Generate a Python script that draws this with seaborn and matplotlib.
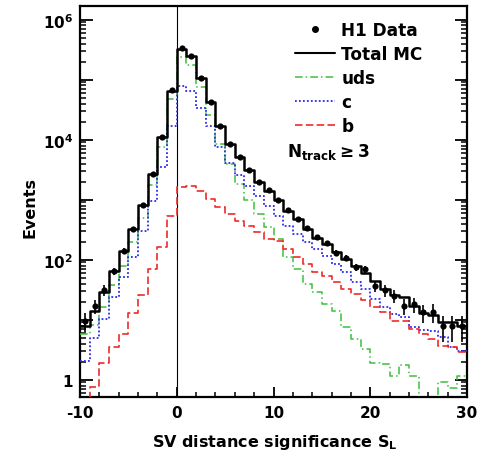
import numpy as np
import matplotlib
matplotlib.use("Agg")
import matplotlib.pyplot as plt
import seaborn as sns
from matplotlib.lines import Line2D
from matplotlib.ticker import FixedLocator, FixedFormatter, LogLocator, NullFormatter, MultipleLocator

# ---------------- data ----------------
bin_edges = list(range(-10, 31))
bin_centers = [e + 0.5 for e in range(-10, 30)]

h1_data = [9.6, 17, 31, 64, 141, 325, 825, 2700, 11000, 68000,
           334000, 251000, 108000, 42000, 17100, 8480, 5150, 3160, 1995, 1435,
           989, 673, 477, 334, 236, 188, 131, 108, 75, 70,
           37, 31, 25, 17, 18, 13.3, 13.6, 7.9, 7.9, 7.9]
h1_err = [3.4, 4.5, 6.2, 8.8, 13, 20, 32, 57, 112, 280,
          600, 520, 340, 210, 135, 95, 75, 58, 47, 40,
          33, 27, 23, 19, 16, 14.5, 12.5, 11.5, 9.5, 9.2,
          7.5, 7.0, 6.3, 5.2, 5.3, 4.6, 4.7, 3.6, 3.6, 3.6]
total_mc = [7.9, 14, 29, 66, 140, 320, 820, 2650, 11000, 66000,
            320000, 245000, 106000, 42000, 16800, 8500, 5100, 3100, 1950, 1400,
            975, 660, 470, 330, 232, 180, 135, 104, 78, 60,
            44, 33, 26, 24, 17, 12.8, 12, 9.3, 9.3, 8]
uds = [5.7, 8.3, 16, 38, 78, 195, 490, 1780, 7470, 47700,
       236000, 176000, 74700, 26100, 8480, 3940, 1830, 990, 578, 350,
       221, 110, 70, 39, 28.6, 18, 14, 7.5, 4.8, 3.25,
       1.9, 1.8, 1.15, 1.75, 1.15, 0, 0, 0.9, 0.72, 1.15]
charm = [2.07, 4.9, 10.3, 23.6, 51, 110, 304, 962, 3470, 17100,
         77000, 65600, 33400, 17100, 7470, 4090, 2580, 1710, 1166, 794,
         541, 369, 268, 200, 151, 117, 85, 63, 42, 32.5,
         22, 16, 12.4, 11, 7.5, 6.7, 6.6, 5.1, 3.46, 3.0]
beauty = [0.3, 0.75, 1.9, 3.55, 5.8, 12.9, 25.8, 70, 165, 541,
          1650, 1710, 1413, 1028, 760, 578, 447, 360, 286, 220,
          207, 151, 110, 85, 62, 54, 42, 33, 27, 21.5,
          16, 13.3, 9.6, 9.6, 7, 5.8, 4.8, 3.6, 3.46, 2.86]

legend_labels = ["H1 Data", "Total MC", "uds", "c", "b"]
x_ticks = [-10, 0, 10, 20, 30]
y_major = [1, 10, 100, 1e3, 1e4, 1e5, 1e6]
y_labels = ["1", "", "$10^{2}$", "", "$10^{4}$", "", "$10^{6}$"]

# ---------------- style ----------------
sns.set_theme(style="ticks")
plt.rcParams["font.family"] = ["DejaVu Sans"]
plt.rcParams["font.weight"] = "bold"
plt.rcParams["mathtext.fontset"] = "dejavusans"
plt.rcParams["mathtext.default"] = "bf"
plt.rcParams["axes.unicode_minus"] = False
for k in ["text.color", "axes.labelcolor", "xtick.color", "ytick.color",
          "axes.edgecolor", "xtick.labelcolor", "ytick.labelcolor"]:
    plt.rcParams[k] = "black"

W, H = 479, 456
fig = plt.figure(figsize=(W / 100, H / 100), dpi=100)
L, R, T, B = 80, 467, 7, 398
ax = fig.add_axes([L / W, 1 - B / H, (R - L) / W, (B - T) / H])

GREEN = "#3cbf3c"
BLUE = "#2a2aee"
RED = "#ee2a2a"

ax.axvline(0, color="black", lw=0.8, zorder=1)

hist_specs = [
    (uds, GREEN, (0, (5, 2, 1, 2)), 1.1),
    (charm, BLUE, (0, (1, 1.2)), 1.3),
    (beauty, RED, (0, (4.5, 2)), 1.2),
    (total_mc, "black", "-", 1.8),
]
for vals, col, ls, lw in hist_specs:
    sns.histplot(x=bin_centers, weights=vals, bins=bin_edges, element="step",
                 fill=False, color=col, linestyle=ls, linewidth=lw, ax=ax, zorder=3)

ax.errorbar(bin_centers, h1_data, yerr=h1_err, fmt="none", ecolor="black",
            elinewidth=1.2, capsize=0, zorder=4)
sns.scatterplot(x=bin_centers, y=h1_data, color="black", s=20, edgecolor="black",
                linewidth=0, ax=ax, zorder=5)

ax.set_yscale("log")
ax.set_xlim(-10, 30)
ax.set_ylim(0.515, 1.69e6)

ax.yaxis.set_major_locator(FixedLocator(y_major))
ax.yaxis.set_major_formatter(FixedFormatter(y_labels))
ax.yaxis.set_minor_locator(LogLocator(base=10, subs=np.arange(2, 10), numticks=20))
ax.yaxis.set_minor_formatter(NullFormatter())
ax.xaxis.set_major_locator(FixedLocator(x_ticks))
ax.xaxis.set_minor_locator(MultipleLocator(2))

ax.tick_params(axis="y", which="major", direction="in", length=9, width=1.3,
               left=True, right=True, labelsize=11, pad=5, colors="black")
ax.tick_params(axis="y", which="minor", direction="in", length=4.5, width=1.1,
               left=True, right=True, colors="black")
ax.tick_params(axis="x", which="major", direction="in", length=7, width=1.3,
               top=False, labelsize=11, pad=6, colors="black")
ax.tick_params(axis="x", which="minor", direction="in", length=3.6, width=1.1,
               top=False, colors="black")
for lab in ax.get_xticklabels() + ax.get_yticklabels():
    lab.set_fontweight("bold")

for sp in ax.spines.values():
    sp.set_linewidth(1.6)
    sp.set_color("black")

ax.set_xlabel("SV distance significance $S_L$", fontsize=11.5, fontweight="bold",
              va="baseline", color="black")
ax.xaxis.set_label_coords(0.504, -0.1245)
ax.set_ylabel("Events", fontsize=11.5, fontweight="bold", va="center", color="black")
ax.yaxis.set_label_coords(-0.129, 0.488)

handles = [
    Line2D([], [], marker="o", ls="none", color="black", ms=4),
    Line2D([], [], color="black", lw=1.5),
    Line2D([], [], color=GREEN, lw=1.1, ls=(0, (5, 2, 1, 2))),
    Line2D([], [], color=BLUE, lw=1.3, ls=(0, (1, 1.2))),
    Line2D([], [], color=RED, lw=1.2, ls=(0, (4.5, 2))),
]
leg = ax.legend(handles, legend_labels, loc="upper left", bbox_to_anchor=(0.555, 0.962),
                frameon=False, prop={"weight": "bold", "size": 12.2}, handlelength=2.35,
                handletextpad=0.4, labelspacing=0.36, borderpad=0, borderaxespad=0)
for t in leg.get_texts():
    t.set_color("black")

ax.text(0.535, 0.616, r"$N_{track}\geq 3$", transform=ax.transAxes, fontsize=12.2,
        va="baseline", ha="left", color="black")

fig.savefig("out.png", dpi=100)
